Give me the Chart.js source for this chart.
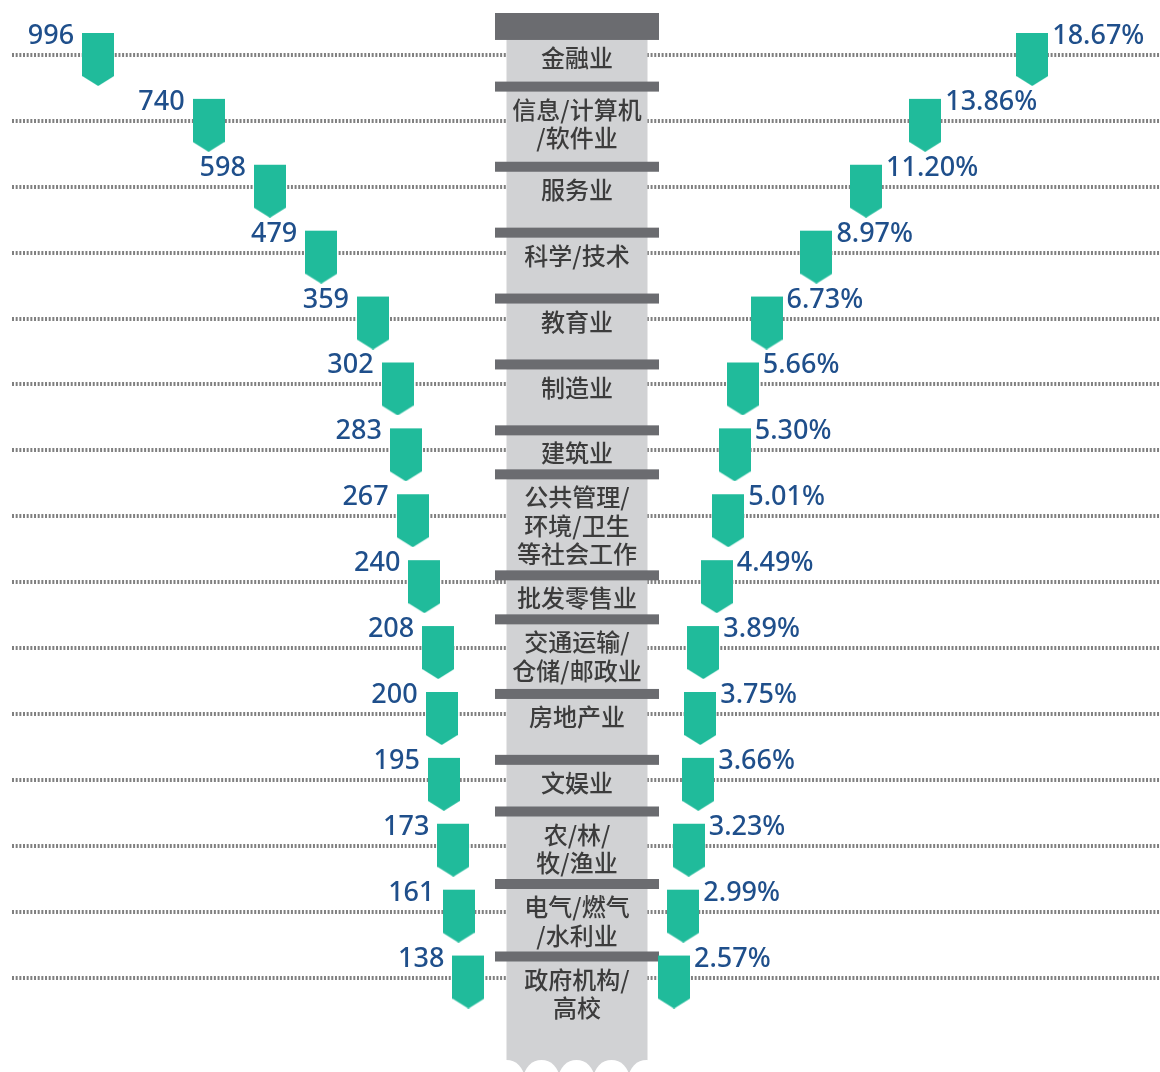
<!DOCTYPE html>
<html>
<head>
<meta charset="utf-8">
<script src="https://cdn.jsdelivr.net/npm/chart.js@4"></script>
<style>
  html, body { margin: 0; padding: 0; background: #ffffff; }
</style>
</head>
<body>
<canvas id="c" width="1160" height="1072"></canvas>
<script>
// ---- data ----
const categories = [
  "金融业",
  "信息/计算机\n/软件业",
  "服务业",
  "科学/技术",
  "教育业",
  "制造业",
  "建筑业",
  "公共管理/\n环境/卫生\n等社会工作",
  "批发零售业",
  "交通运输/\n仓储/邮政业",
  "房地产业",
  "文娱业",
  "农/林/\n牧/渔业",
  "电气/燃气\n/水利业",
  "政府机构/\n高校"
];
const counts = [996, 740, 598, 479, 359, 302, 283, 267, 240, 208, 200, 195, 173, 161, 138];
const shares = [18.67, 13.86, 11.20, 8.97, 6.73, 5.66, 5.30, 5.01, 4.49, 3.89, 3.75, 3.66, 3.23, 2.99, 2.57];

// ---- styles ----
const GREEN = '#20bb9b';
const LABEL_BLUE = '#1f4f8b';
const COL_GRAY = '#d1d2d4';
const BAR_DARK = '#6b6c70';
const DOT_GRAY = '#808080';
const TEXT_DARK = '#3c3c3c';

// marker image (tag shape pointing down), padded so the row line crosses its upper part
function makeMarker() {
  const w = 32, h = 62;
  const cv = document.createElement('canvas');
  cv.width = w; cv.height = h;
  const g = cv.getContext('2d');
  g.fillStyle = GREEN;
  g.beginPath();
  g.moveTo(0, 9);
  g.lineTo(w, 9);
  g.lineTo(w, 52);
  g.lineTo(w / 2, 62);
  g.lineTo(0, 52);
  g.closePath();
  g.fill();
  return cv;
}
const marker = makeMarker();

const decorPlugin = {
  id: 'decor',
  beforeDatasetsDraw(chart) {
    const ctx = chart.ctx;
    const ys = chart.scales.y;
    const W = chart.width, H = chart.height;
    ctx.save();
    // dotted row lines
    ctx.strokeStyle = DOT_GRAY;
    ctx.lineWidth = 4;
    ctx.setLineDash([2, 1.67]);
    categories.forEach((c, i) => {
      const y = Math.round(ys.getPixelForValue(i));
      ctx.beginPath();
      ctx.moveTo(12, y);
      ctx.lineTo(W, y);
      ctx.stroke();
    });
    ctx.setLineDash([]);
    // centre column
    const cx = W / 2 - 3;
    const colL = cx - 70.5, colR = cx + 70.5;
    ctx.fillStyle = COL_GRAY;
    ctx.fillRect(colL, 30, colR - colL, H - 30);
    // scalloped bottom
    ctx.fillStyle = '#ffffff';
    for (let k = 0; k < 5; k++) {
      ctx.beginPath();
      ctx.arc(colL + k * 35, H + 5.5, 17.5, 0, Math.PI * 2);
      ctx.fill();
    }
    // separators + category text (blocks pushed down if they would collide)
    const lh = 28.5;
    ctx.font = '500 24px "Noto Sans CJK SC", "Noto Sans", sans-serif';
    ctx.textAlign = 'center';
    ctx.textBaseline = 'middle';
    let prevLast = -Infinity;
    categories.forEach((c, i) => {
      const y = ys.getPixelForValue(i);
      const lines = c.split('\n');
      let first = y + 3 - (lines.length - 1) * lh / 2;
      first = Math.max(first, prevLast + 44);
      const barTop = i === 0 ? 13 : first - 28;
      ctx.fillStyle = BAR_DARK;
      ctx.fillRect(cx - 82, barTop, 164, first - 18 - barTop);
      ctx.fillStyle = TEXT_DARK;
      lines.forEach((ln, j) => ctx.fillText(ln, cx, first + j * lh));
      prevLast = first + (lines.length - 1) * lh;
    });
    ctx.restore();
  },
  afterDatasetsDraw(chart) {
    const ctx = chart.ctx;
    ctx.save();
    ctx.font = '500 27px "Noto Sans", "Open Sans", sans-serif';
    ctx.fillStyle = LABEL_BLUE;
    ctx.textBaseline = 'alphabetic';
    chart.getDatasetMeta(0).data.forEach((pt, i) => {
      ctx.textAlign = 'right';
      ctx.fillText(String(counts[i]), pt.x - 16 - 8, pt.y - 11);
    });
    chart.getDatasetMeta(1).data.forEach((pt, i) => {
      ctx.textAlign = 'left';
      ctx.fillText(shares[i].toFixed(2) + '%', pt.x + 16 + 4, pt.y - 11);
    });
    ctx.restore();
  }
};

new Chart(document.getElementById('c'), {
  type: 'scatter',
  data: {
    datasets: [
      {
        label: '人数',
        xAxisID: 'xl',
        data: counts.map((v, i) => ({ x: v, y: categories[i] })),
        pointStyle: marker,
        pointRadius: 16
      },
      {
        label: '占比',
        xAxisID: 'xr',
        data: shares.map((v, i) => ({ x: v, y: categories[i] })),
        pointStyle: marker,
        pointRadius: 16
      }
    ]
  },
  options: {
    responsive: false,
    animation: false,
    layout: { padding: { top: 22, bottom: 61.5, left: 0, right: 0 } },
    plugins: { legend: { display: false }, tooltip: { enabled: false } },
    scales: {
      y: { type: 'category', labels: categories, offset: true, display: false },
      xl: { type: 'linear', position: 'bottom', reverse: true, min: -1425, max: 1184, display: false },
      xr: { type: 'linear', position: 'bottom', min: -26.96, max: 23.65, display: false }
    }
  },
  plugins: [decorPlugin]
});
</script>
</body>
</html>
